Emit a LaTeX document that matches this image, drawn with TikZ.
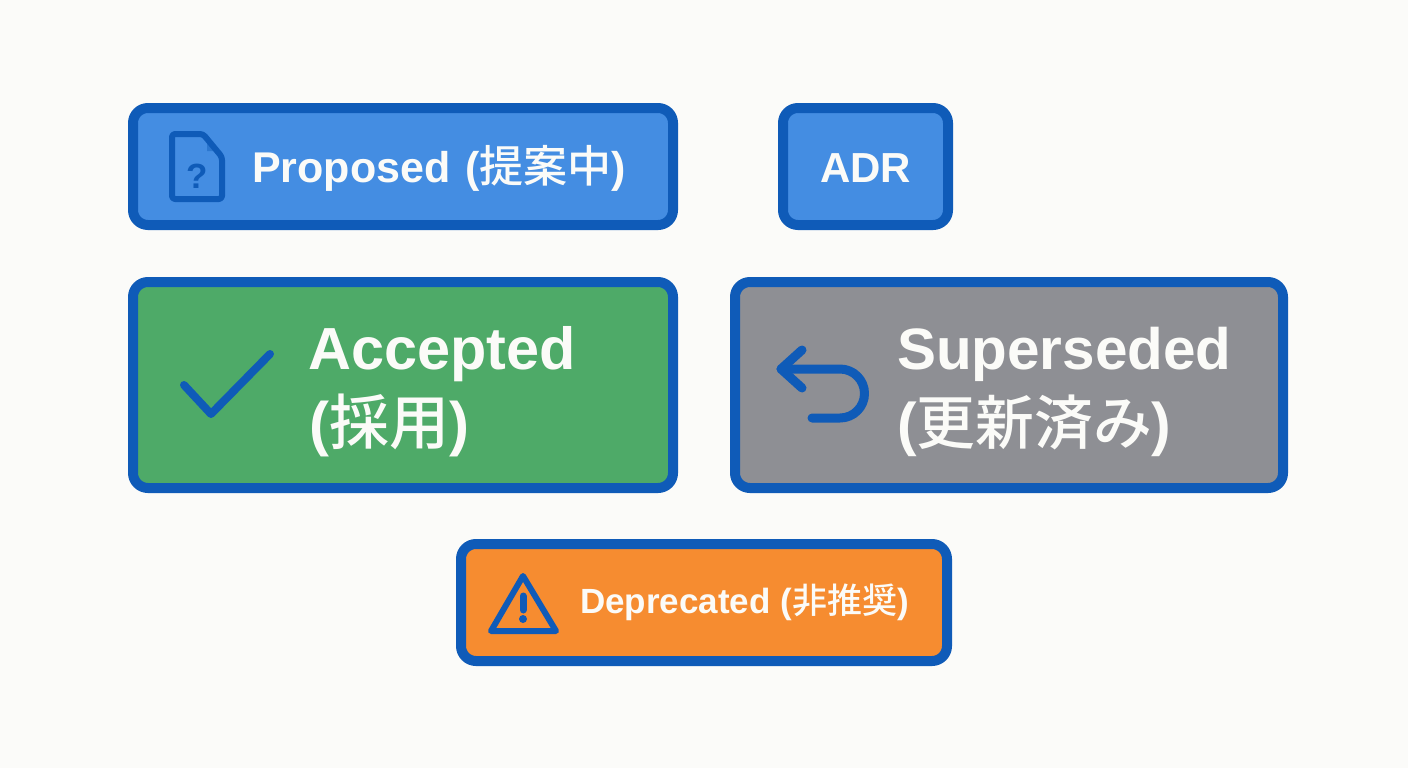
\documentclass[tikz,border=0pt]{standalone}
\usepackage{fontspec}
\setmainfont{Liberation Sans}
\newfontfamily\cjkmed{Noto Sans CJK JP Medium}
\newcommand{\cjk}{\mdseries\cjkmed}
\definecolor{bgc}{HTML}{FBFBF9}
\definecolor{edgeblue}{HTML}{0F5BB8}
\definecolor{fillblue}{HTML}{448DE2}
\definecolor{fillgreen}{HTML}{4EAA68}
\definecolor{fillgray}{HTML}{8E8F94}
\definecolor{fillorange}{HTML}{F68C30}
\definecolor{txt}{HTML}{FBFBF8}
\tikzset{
  statusbox/.style={draw=edgeblue,line width=10pt,rounded corners=15pt},
  label/.style={anchor=base west,inner sep=0pt,text=txt},
  icon/.style={draw=edgeblue,line cap=round,line join=round},
}
\newcommand{\sz}[1]{\bfseries\fontsize{#1}{#1}\selectfont}
\begin{document}
\begin{tikzpicture}[x=1pt,y=-1pt]
\useasboundingbox[fill=bgc] (0,0) rectangle (1408,768);
% boxes
\draw[statusbox,fill=fillblue] (133,108) rectangle (673,225);
\draw[statusbox,fill=fillblue] (783,108) rectangle (948,225);
\draw[statusbox,fill=fillgreen] (133,282) rectangle (673,488);
\draw[statusbox,fill=fillgray] (735,282) rectangle (1283,488);
\draw[statusbox,fill=fillorange] (461,544) rectangle (947,661);
% texts
\node[label,font=\sz{43}] (tp) at (252,182) {Proposed\hspace{3pt} ({\cjk\fontsize{44}{44}\selectfont 提案中})};
\node[label,font=\sz{42}] (ta) at (820,182) {ADR};
\node[label,font=\sz{59.4}] (tac) at (308,369) {Accepted};
\node[label,font=\sz{60}] (tac2) at (309,444) {({\cjk 採用})};
\node[label,font=\sz{58.4}] (ts) at (897,369) {Superseded};
\node[label,font=\sz{58.8}] (ts2) at (897,444) {({\cjk 更新済み})};
\node[label,font=\sz{35}] (td) at (580,613) {Deprecated ({\cjk 非推奨})};
% document icon
\fill[edgeblue!45!fillblue] (207,138) -- (217,151) -- (207,151) -- cycle;
\draw[icon,line width=6pt,rounded corners=3pt] (172,134) -- (203,134) -- (222,157) -- (222,199) -- (172,199) -- cycle;
\node[inner sep=0pt,text=edgeblue,font=\sz{35},anchor=base] (q) at (197,188) {?};
% check
\draw[icon,line width=8pt] (184,385) -- (211,414) -- (270,354);
% return arrow
\draw[icon,line width=9pt] (802,350) -- (781,369) -- (802,388);
\draw[icon,line width=9pt] (781,369) -- (840,369) arc[start angle=-90,end angle=90,x radius=24.5,y radius=24.5] -- (812,418);
% warning
\draw[icon,line width=6pt] (523,576) -- (556,631) -- (491,631) -- cycle;
\draw[edgeblue,line width=7pt,line cap=round] (523,596) -- (523,610);
\fill[edgeblue] (523,619) circle (4);
\end{tikzpicture}
\end{document}
